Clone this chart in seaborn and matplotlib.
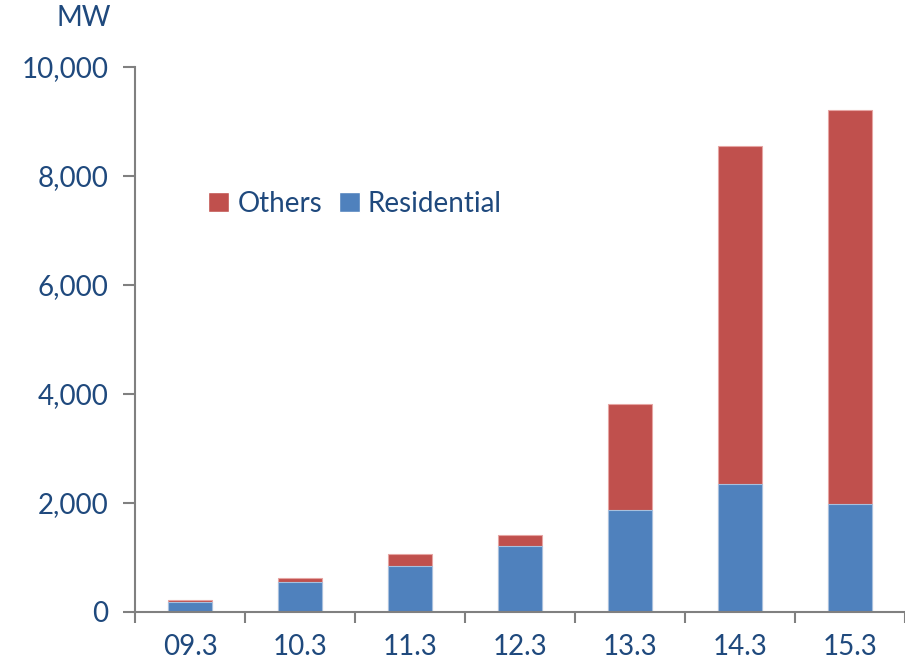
import matplotlib
matplotlib.use("Agg")
import matplotlib.pyplot as plt
import seaborn as sns
import numpy as np
from matplotlib.patches import Patch

# Data (MW)
periods = ["09.3", "10.3", "11.3", "12.3", "13.3", "14.3", "15.3"]
residential = [190, 556, 850, 1210, 1870, 2350, 1985]
others = [30, 70, 220, 200, 1950, 6200, 7225]
totals = [r + o for r, o in zip(residential, others)]

red = "#C0504D"
blue = "#4F81BD"
text_col = "#1F497D"
axis_col = "#808080"

sns.set_style("white")
plt.rcParams["font.family"] = ["Lato", "DejaVu Sans"]

fig = plt.figure(figsize=(9.05, 6.64), dpi=100)
ax = fig.add_axes([135 / 905, 1 - 612 / 664, 1 - 135 / 905, (612 - 67) / 664])

sns.barplot(x=periods, y=totals, color=red, width=0.4, saturation=1,
            edgecolor="#E6A5A3", linewidth=0.8, ax=ax)
sns.barplot(x=periods, y=residential, color=blue, width=0.4, saturation=1,
            edgecolor="#A7C0DE", linewidth=0.8, ax=ax)

ax.set_xlim(-0.5, len(periods) - 0.5)
ax.set_ylim(0, 10000)
ax.set_yticks(np.arange(0, 10001, 2000))
ax.set_yticklabels([f"{v:,}" for v in range(0, 10001, 2000)])

# category boundaries as tick marks, labels centred without marks
ax.set_xticks(np.arange(-0.5, len(periods), 1.0), minor=True)
ax.tick_params(axis="x", which="major", length=0, pad=16,
               labelsize=20, labelcolor=text_col)
ax.tick_params(axis="x", which="minor", length=8, width=1.5,
               color=axis_col, direction="out")
ax.tick_params(axis="y", length=9, width=1.5, color=axis_col, direction="out",
               pad=10, labelsize=20, labelcolor=text_col)
ax.tick_params(left=True, bottom=True, which="both")

for side in ["top", "right"]:
    ax.spines[side].set_visible(False)
for side in ["left", "bottom"]:
    ax.spines[side].set_color(axis_col)
    ax.spines[side].set_linewidth(1.5)
ax.set_xlabel("")
ax.set_ylabel("")

fig.text(84 / 905, 1 - 18 / 664, "MW", color=text_col, fontsize=20,
         ha="center", va="center")

handles = [Patch(facecolor=red, label="Others"),
           Patch(facecolor=blue, label="Residential")]
leg = ax.legend(handles=handles, ncol=2, frameon=False, fontsize=20,
                labelcolor=text_col, loc="center left",
                bbox_to_anchor=((197 - 135) / 770, (612 - 204) / 545),
                handlelength=0.75, handleheight=0.75, handletextpad=0.3,
                columnspacing=0.6, borderaxespad=0)

fig.savefig("out.png", dpi=100)
